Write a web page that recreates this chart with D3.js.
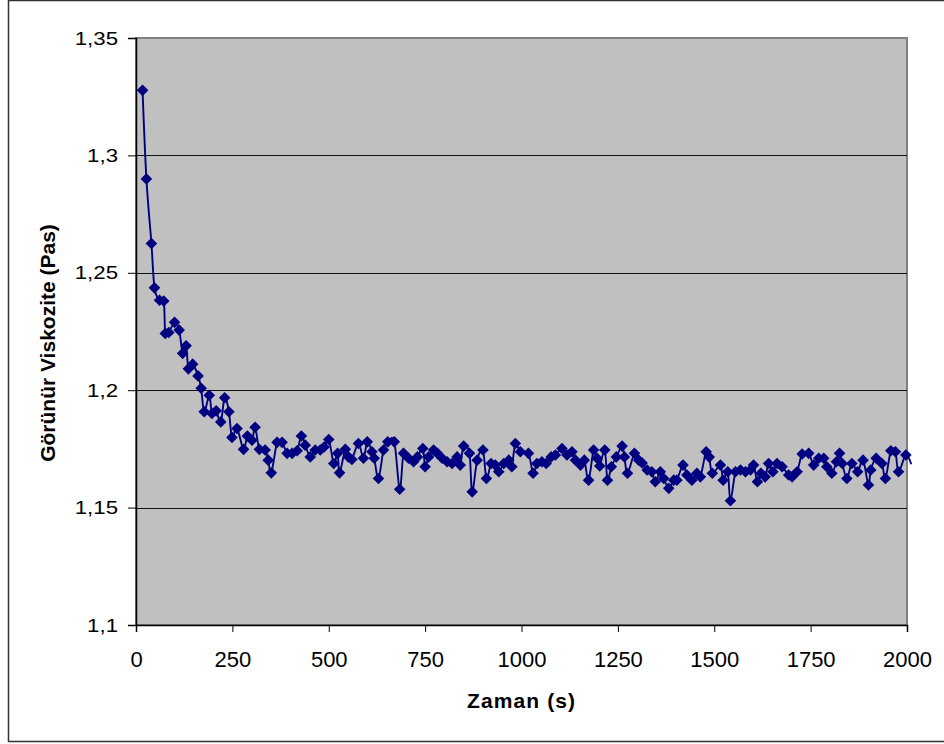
<!DOCTYPE html>
<html>
<head>
<meta charset="utf-8">
<script src="https://cdn.jsdelivr.net/npm/d3@7/dist/d3.min.js"></script>
<style>
  html, body { margin: 0; padding: 0; background: #fff; }
  svg { display: block; }
  text { font-family: "Liberation Sans", Arial, sans-serif; fill: #000; }
</style>
</head>
<body>
<svg id="chart" width="944" height="744"></svg>
<script>
// Apparent viscosity over time (s)
const timeSec = [
  17, 27, 40, 48, 61, 72, 76, 85, 100, 112,
  121, 130, 136, 147, 161, 169, 177, 190, 197, 208,
  220, 230, 241, 249, 262, 279, 289, 301, 309, 320,
  335, 343, 351, 366, 379, 392, 405, 418, 429, 439,
  452, 465, 478, 488, 500, 513, 523, 528, 543, 551,
  560, 577, 590, 600, 612, 618, 629, 642, 653, 670,
  684, 694, 707, 720, 730, 744, 750, 759, 772, 782,
  794, 807, 820, 833, 841, 850, 865, 872, 885, 900,
  909, 921, 932, 941, 954, 967, 975, 984, 997, 1018,
  1030, 1040, 1053, 1064, 1077, 1088, 1105, 1118, 1131, 1140,
  1153, 1163, 1174, 1187, 1196, 1203, 1216, 1223, 1233, 1246,
  1261, 1267, 1275, 1293, 1304, 1313, 1326, 1338, 1347, 1360,
  1369, 1382, 1395, 1403, 1419, 1429, 1442, 1455, 1464, 1479,
  1487, 1495, 1516, 1523, 1535, 1542, 1555, 1568, 1581, 1594,
  1602, 1612, 1621, 1632, 1641, 1652, 1663, 1676, 1693, 1702,
  1715, 1728, 1745, 1758, 1771, 1784, 1792, 1805, 1817, 1825,
  1832, 1844, 1857, 1872, 1886, 1900, 1906, 1920, 1935, 1944,
  1958, 1970, 1978, 1997, 2011
];
const viscosity = [
  1.3277, 1.2900, 1.2625, 1.2436, 1.2383, 1.2380, 1.2242, 1.2246, 1.2289, 1.2256,
  1.2157, 1.2189, 1.2091, 1.2111, 1.2061, 1.2008, 1.1908, 1.1978, 1.1901, 1.1912,
  1.1865, 1.1968, 1.1908, 1.1799, 1.1837, 1.1748, 1.1805, 1.1787, 1.1842, 1.1748,
  1.1745, 1.1702, 1.1648, 1.1778, 1.1778, 1.1731, 1.1731, 1.1742, 1.1805, 1.1766,
  1.1716, 1.1745, 1.1745, 1.1758, 1.1790, 1.1688, 1.1731, 1.1648, 1.1748, 1.1716,
  1.1705, 1.1773, 1.1710, 1.1780, 1.1738, 1.1710, 1.1624, 1.1745, 1.1780, 1.1780,
  1.1578, 1.1731, 1.1710, 1.1695, 1.1716, 1.1752, 1.1674, 1.1716, 1.1745, 1.1731,
  1.1710, 1.1695, 1.1688, 1.1716, 1.1681, 1.1762, 1.1731, 1.1567, 1.1702, 1.1745,
  1.1624, 1.1688, 1.1681, 1.1653, 1.1688, 1.1702, 1.1674, 1.1773, 1.1738, 1.1731,
  1.1646, 1.1688, 1.1695, 1.1688, 1.1716, 1.1724, 1.1752, 1.1724, 1.1738, 1.1702,
  1.1681, 1.1702, 1.1617, 1.1745, 1.1710, 1.1677, 1.1745, 1.1617, 1.1674, 1.1716,
  1.1762, 1.1716, 1.1646, 1.1731, 1.1702, 1.1690, 1.1660, 1.1653, 1.1610, 1.1653,
  1.1624, 1.1582, 1.1617, 1.1617, 1.1681, 1.1639, 1.1617, 1.1646, 1.1631, 1.1738,
  1.1715, 1.1646, 1.1681, 1.1617, 1.1653, 1.1529, 1.1653, 1.1660, 1.1653, 1.1660,
  1.1681, 1.1610, 1.1646, 1.1631, 1.1688, 1.1653, 1.1688, 1.1674, 1.1639, 1.1631,
  1.1653, 1.1728, 1.1731, 1.1681, 1.1710, 1.1710, 1.1674, 1.1646, 1.1695, 1.1731,
  1.1688, 1.1624, 1.1688, 1.1653, 1.1702, 1.1596, 1.1660, 1.1710, 1.1688, 1.1624,
  1.1742, 1.1738, 1.1653, 1.1724, 1.1685
];
const xTicks = [0, 250, 500, 750, 1000, 1250, 1500, 1750, 2000];
const yTicks = [1.1, 1.15, 1.2, 1.25, 1.3, 1.35];
const gridValues = [1.15, 1.2, 1.25, 1.3];
const xTitle = "Zaman (s)";
const yTitle = "Görünür Viskozite (Pas)";

const points = timeSec.map((t, i) => ({ t, v: viscosity[i] }));

const svg = d3.select("#chart");
const plot = { left: 136, right: 907, top: 38, bottom: 625 };

const x = d3.scaleLinear().domain([0, 2000]).range([plot.left, plot.right]);
const y = d3.scaleLinear().domain([1.1, 1.35]).range([plot.bottom, plot.top]);

const trFormat = d3.formatLocale({ decimal: ",", thousands: ".", grouping: [3], currency: ["", ""] }).format(".2~f");

// outer chart frame
svg.append("rect")
  .attr("x", 8.5).attr("y", 0.5)
  .attr("width", 970).attr("height", 741)
  .attr("fill", "#fff").attr("stroke", "#333").attr("stroke-width", 1.5);

// plot area
svg.append("rect")
  .attr("x", plot.left).attr("y", plot.top)
  .attr("width", plot.right - plot.left).attr("height", plot.bottom - plot.top)
  .attr("fill", "#c0c0c0").attr("stroke", "#808080").attr("stroke-width", 2);

// horizontal gridlines
svg.append("g").selectAll("line").data(gridValues).join("line")
  .attr("x1", plot.left).attr("x2", plot.right)
  .attr("y1", d => Math.round(y(d)) + 0.5).attr("y2", d => Math.round(y(d)) + 0.5)
  .attr("stroke", "#111").attr("stroke-width", 1);

// y axis
const yAxis = svg.append("g")
  .attr("transform", `translate(${plot.left},0)`)
  .call(d3.axisLeft(y).tickValues(yTicks).tickFormat(trFormat).tickSize(8).tickPadding(10));
yAxis.select(".domain").attr("stroke", "#000").attr("stroke-width", 1.5);
yAxis.selectAll(".tick line").attr("stroke", "#000");
yAxis.selectAll(".tick text")
  .attr("font-size", 19).attr("font-family", "Liberation Sans, Arial, sans-serif")
  .each(function () {
    const w = this.getComputedTextLength();
    d3.select(this).attr("textLength", w * 1.17).attr("lengthAdjust", "spacingAndGlyphs");
  });

// x axis
const xAxis = svg.append("g")
  .attr("transform", `translate(0,${plot.bottom})`)
  .call(d3.axisBottom(x).tickValues(xTicks).tickFormat(d3.format("d")).tickSize(7));
xAxis.select(".domain").attr("stroke", "#000").attr("stroke-width", 1.5);
xAxis.selectAll(".tick line").attr("stroke", "#000");
xAxis.selectAll(".tick text")
  .attr("font-size", 22).attr("font-family", "Liberation Sans, Arial, sans-serif")
  .attr("y", 42).attr("dy", null);

// smoothed series line
const line = d3.line()
  .x(d => x(d.t)).y(d => y(d.v))
  .curve(d3.curveCatmullRom.alpha(0));
svg.append("path")
  .datum(points)
  .attr("d", line)
  .attr("fill", "none").attr("stroke", "#000080").attr("stroke-width", 1.9);

// diamond markers (only for points inside the x range)
const diamond = "M0,-5.8L5.8,0L0,5.8L-5.8,0Z";
svg.append("g").selectAll("path")
  .data(points.filter(d => d.t <= 2000))
  .join("path")
  .attr("transform", d => `translate(${x(d.t)},${y(d.v)})`)
  .attr("d", diamond)
  .attr("fill", "#000080");

// axis titles
svg.append("text")
  .attr("x", 521).attr("y", 708)
  .attr("text-anchor", "middle")
  .attr("font-size", 21).attr("font-weight", "bold")
  .attr("textLength", 108).attr("lengthAdjust", "spacing")
  .text(xTitle);

svg.append("text")
  .attr("transform", "translate(54.5,343) rotate(-90)")
  .attr("text-anchor", "middle")
  .attr("font-size", 21).attr("font-weight", "bold")
  .text(yTitle);
</script>
</body>
</html>
